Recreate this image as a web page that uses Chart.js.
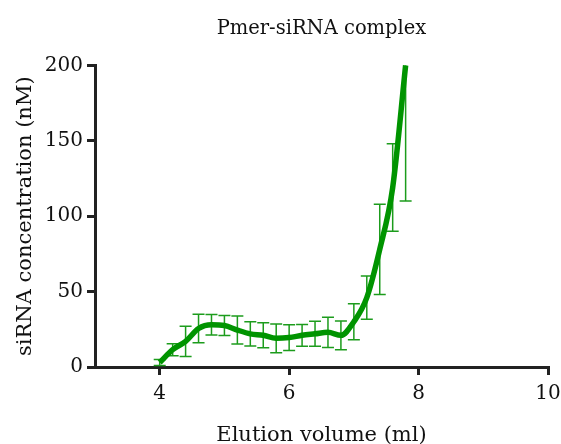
<!DOCTYPE html>
<html><head><meta charset="utf-8">
<script src="https://cdn.jsdelivr.net/npm/chart.js@4/dist/chart.umd.min.js"></script>
<style>html,body{margin:0;padding:0;background:#fff}#wrap{width:561px;height:444px}</style>
</head><body><div id="wrap"><canvas id="c" width="561" height="444"></canvas></div>
<script>
const volumes = [4.0,4.2,4.4,4.6,4.8,5.0,5.2,5.4,5.6,5.8,6.0,6.2,6.4,6.6,6.8,7.0,7.2,7.4,7.6,7.8];
const means   = [3,11.5,17,25.5,28,27.5,24.5,22,21,19,19.5,21,22,23,21,30,46,78,119,200];
const errors  = [2,4,10,9.5,6.8,6.6,9.3,8,8.3,9.5,8.6,7.2,8.3,10,9.5,12,14.4,30,29,90];
const xTicks = [4,6,8,10];
const yTicks = [0,50,100,150,200];
const FONT = 'DejaVu Serif';

const errorBars = {
  id:'errorBars',
  beforeDatasetsDraw(chart){
    const {ctx, scales:{x,y}} = chart;
    ctx.save();
    ctx.strokeStyle = '#1c9c1c';
    ctx.lineWidth = 1.5;
    volumes.forEach((v,i)=>{
      const px = x.getPixelForValue(v);
      const hi = Math.min(means[i]+errors[i], y.max);
      const lo = Math.max(means[i]-errors[i], y.min);
      const pt = y.getPixelForValue(hi), pb = y.getPixelForValue(lo);
      ctx.beginPath();
      ctx.moveTo(px,pt); ctx.lineTo(px,pb);
      if (means[i]+errors[i] <= y.max){ctx.moveTo(px-6,pt); ctx.lineTo(px+6,pt);}
      ctx.moveTo(px-6,pb); ctx.lineTo(px+6,pb);
      ctx.stroke();
    });
    ctx.restore();
  }
};

new Chart(document.getElementById('c'), {
  type:'line',
  data:{datasets:[{
    data: volumes.map((v,i)=>({x:v,y:means[i]})),
    borderColor:'#009400', borderWidth:5.5, pointRadius:0,
    tension:0.4, cubicInterpolationMode:'monotone', clip:false, fill:false
  }]},
  options:{
    responsive:false, animation:false, devicePixelRatio:1,
    layout:{padding:{left:0,right:13,top:0,bottom:0}},
    plugins:{
      legend:{display:false}, tooltip:{enabled:false},
      title:{display:true, fullSize:false, text:'Pmer-siRNA complex', color:'#111',
        font:{family:FONT,size:19.5,weight:'normal'}, padding:{top:17,bottom:25}}
    },
    scales:{
      x:{type:'linear', min:3, max:10,
        afterBuildTicks(s){s.ticks = xTicks.map(v=>({value:v}));},
        afterFit(s){s.height = 77; s.paddingLeft = 0; s.paddingRight = 0;},
        grid:{drawOnChartArea:false, color:'#222', lineWidth:3, tickLength:8},
        border:{color:'#222', width:3},
        ticks:{color:'#111', font:{family:FONT,size:20}, padding:7, maxRotation:0},
        title:{display:true, text:'Elution volume (ml)', color:'#111', font:{family:FONT,size:21,lineHeight:0.77}, padding:{top:16,bottom:0}}
      },
      y:{type:'linear', min:0, max:200,
        afterBuildTicks(s){s.ticks = yTicks.map(v=>({value:v}));},
        afterFit(s){s.width = 95;},
        grid:{drawOnChartArea:false, color:'#222', lineWidth:3, tickLength:8},
        border:{color:'#222', width:3},
        ticks:{color:'#111', font:{family:FONT,size:20}, padding:4},
        title:{display:true, text:'siRNA concentration (nM)', color:'#111', font:{family:FONT,size:21}, padding:{top:13,bottom:4}}
      }
    }
  },
  plugins:[errorBars]
});
</script></body></html>
